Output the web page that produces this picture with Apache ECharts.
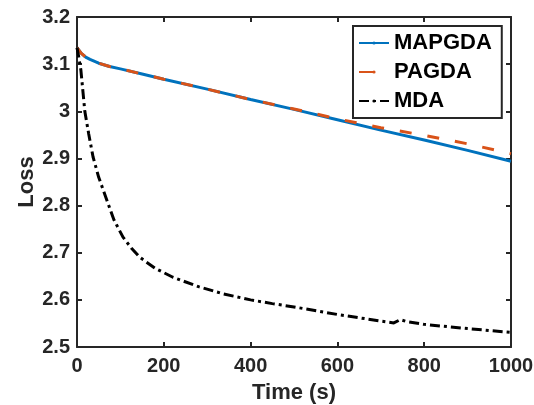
<!DOCTYPE html>
<html>
<head>
<meta charset="utf-8">
<script src="https://cdn.jsdelivr.net/npm/echarts@6/dist/echarts.min.js"></script>
<style>
  html, body { margin: 0; padding: 0; background: #ffffff; }
  #chart { width: 534px; height: 405px; }
</style>
</head>
<body>
<div id="chart"></div>
<script>
// Loss over wall-clock time for three optimisers
var mapgdaTime = [0, 10, 20, 30, 50, 75, 100, 150, 200, 300, 400, 500, 600, 700, 800, 900, 1000];
var mapgdaLoss = [3.135, 3.123, 3.115, 3.110, 3.102, 3.095, 3.090, 3.079, 3.068, 3.047, 3.025, 3.004, 2.982, 2.960, 2.939, 2.917, 2.894];

var pagdaTime = [0, 10, 20, 30, 50, 75, 100, 150, 200, 300, 400, 500, 600, 700, 800, 900, 1000];
var pagdaLoss = [3.135, 3.123, 3.115, 3.110, 3.102, 3.095, 3.090, 3.079, 3.068, 3.047, 3.025, 3.005, 2.984, 2.965, 2.949, 2.931, 2.910];

var mdaTime = [0, 5, 9, 18, 27, 37, 50, 69, 85, 106, 125, 145, 180, 221, 280, 336, 400, 450, 500, 600, 700, 730, 745, 760, 800, 900, 1000];
var mdaLoss = [3.135, 3.110, 3.087, 3.000, 2.952, 2.903, 2.860, 2.811, 2.770, 2.733, 2.710, 2.690, 2.667, 2.648, 2.628, 2.613, 2.600, 2.592, 2.585, 2.569, 2.555, 2.551, 2.558, 2.554, 2.548, 2.539, 2.531];

var seriesNames = ['MAPGDA', 'PAGDA', 'MDA'];
var xTicks = { min: 0, max: 1000, step: 200 };
var yTicks = { min: 2.5, max: 3.2, step: 0.1 };

function pairs(xs, ys) {
  return xs.map(function (x, i) { return [x, ys[i]]; });
}

var axisColor = '#262626';
var fontFamily = '"Liberation Sans", Arial, Helvetica, sans-serif';

function baseAxis(extra) {
  var a = {
    type: 'value',
    axisLine: { show: true, onZero: false, lineStyle: { color: axisColor, width: 2 } },
    axisTick: { show: true, inside: true, length: 5, lineStyle: { color: axisColor, width: 2 } },
    splitLine: { show: false },
    axisLabel: { show: false }
  };
  for (var k in extra) a[k] = extra[k];
  return a;
}

var chart = echarts.init(document.getElementById('chart'), null, { renderer: 'canvas' });

chart.setOption({
  backgroundColor: '#ffffff',
  animation: false,
  grid: { left: 77, right: 23, top: 17, bottom: 58, containLabel: false, outerBoundsMode: 'none' },
  xAxis: [
    baseAxis({
      position: 'bottom',
      min: xTicks.min, max: xTicks.max, interval: xTicks.step,
      name: 'Time (s)', nameLocation: 'middle', nameGap: 35, nameMoveOverlap: false,
      nameTextStyle: { color: axisColor, fontSize: 22, fontWeight: 'bold', fontFamily: fontFamily },
      axisLabel: {
        show: true, color: axisColor, fontSize: 20, fontWeight: 'bold', fontFamily: fontFamily, margin: 9,
        formatter: function (v) { return String(v); }
      }
    }),
    baseAxis({ position: 'top', min: xTicks.min, max: xTicks.max, interval: xTicks.step })
  ],
  yAxis: [
    baseAxis({
      position: 'left',
      min: yTicks.min, max: yTicks.max, interval: yTicks.step,
      name: 'Loss', nameLocation: 'middle', nameGap: 39, nameRotate: 90, nameMoveOverlap: false,
      nameTextStyle: { color: axisColor, fontSize: 22, fontWeight: 'bold', fontFamily: fontFamily },
      axisLabel: {
        show: true, color: axisColor, fontSize: 20, fontWeight: 'bold', fontFamily: fontFamily, margin: 7,
        formatter: function (v) { return String(Math.round(v * 10) / 10); }
      }
    }),
    baseAxis({ position: 'right', min: yTicks.min, max: yTicks.max, interval: yTicks.step })
  ],
  legend: {
    data: [
      { name: seriesNames[0] },
      { name: seriesNames[1], lineStyle: { type: [15, 20] } },
      { name: seriesNames[2] }
    ],
    orient: 'vertical',
    left: 353,
    top: 26,
    width: 152,
    padding: [6, 10, 6, 5],
    itemWidth: 30,
    itemHeight: 4,
    itemGap: 7,
    backgroundColor: '#ffffff',
    borderColor: axisColor,
    borderWidth: 2,
    borderRadius: 0,
    textStyle: { color: '#000000', fontSize: 22, fontWeight: 'bold', fontFamily: fontFamily }
  },
  series: [
    {
      name: seriesNames[0], type: 'line', symbol: 'none', smooth: false,
      data: pairs(mapgdaTime, mapgdaLoss),
      lineStyle: { color: '#0072BD', width: 3, type: 'solid' },
      itemStyle: { color: '#0072BD' }
    },
    {
      name: seriesNames[1], type: 'line', symbol: 'none', smooth: false,
      data: pairs(pagdaTime, pagdaLoss),
      lineStyle: { color: '#D95319', width: 3, type: [12, 16] },
      itemStyle: { color: '#D95319' }
    },
    {
      name: seriesNames[2], type: 'line', symbol: 'none', smooth: false,
      data: pairs(mdaTime, mdaLoss),
      lineStyle: { color: '#000000', width: 3, type: [10, 4, 3, 4] },
      itemStyle: { color: '#000000' }
    }
  ]
});
</script>
</body>
</html>
